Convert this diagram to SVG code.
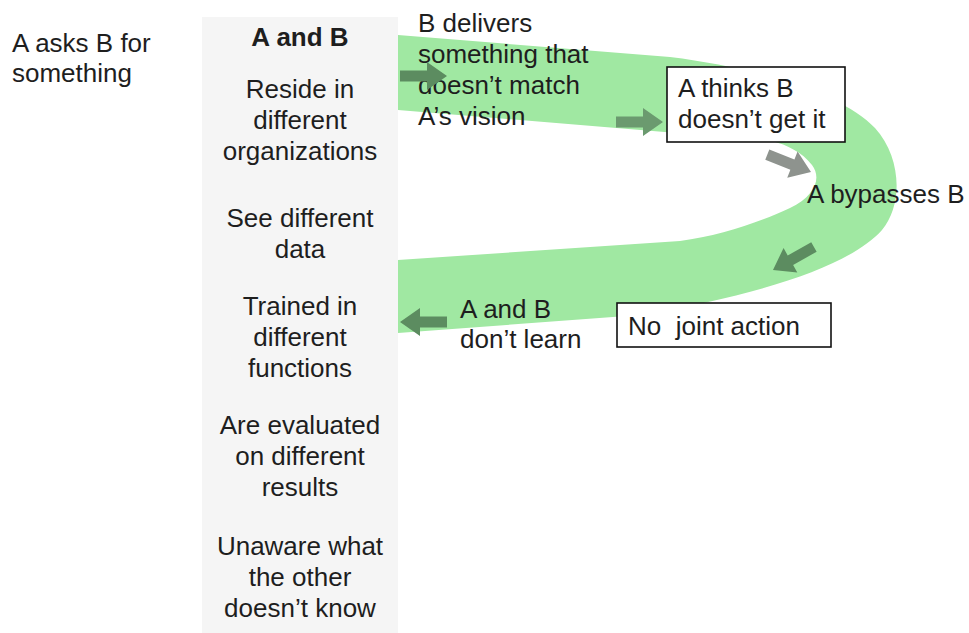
<svg xmlns="http://www.w3.org/2000/svg" width="969" height="633" viewBox="0 0 969 633">
<style>
text{font-family:"Liberation Sans",Arial,sans-serif;font-size:26px;fill:#1e1e1e}
.c{text-anchor:middle}
.b{font-weight:bold}
.box{fill:#fff;stroke:#111;stroke-width:1.6}
</style>
<defs>
<path id="arr" d="M-47,-5.5 H-20 V-14 L0,0 L-20,14 V5.5 H-47 Z"/>
</defs>
<rect width="969" height="633" fill="#fff"/>
<g id="panel">
<rect x="202" y="17" width="196" height="616" fill="#f5f5f5"/>
<text class="c b" x="300" y="46">A and B</text>
<text class="c" x="300" y="98">Reside in</text>
<text class="c" x="300" y="129">different</text>
<text class="c" x="300" y="160">organizations</text>
<text class="c" x="300" y="227">See different</text>
<text class="c" x="300" y="258">data</text>
<text class="c" x="300" y="315">Trained in</text>
<text class="c" x="300" y="346">different</text>
<text class="c" x="300" y="377">functions</text>
<text class="c" x="300" y="434">Are evaluated</text>
<text class="c" x="300" y="465">on different</text>
<text class="c" x="300" y="496">results</text>
<text class="c" x="300" y="555">Unaware what</text>
<text class="c" x="300" y="586">the other</text>
<text class="c" x="300" y="617">doesn’t know</text>
</g>
<g id="band">
<path d="M398,35 L670,57 C760,68 845,95 875,128 C902,158 903,205 882,230 C850,266 760,295 640,315 L398,333 L398,260 L680,241 C720,236 760,222 790,208 C815,196 822,178 812,165 C802,152 787,145 772,141 L398,110 Z" fill="#a0e8a2"/>
</g>
<g id="start">
<text x="12" y="52">A asks B for</text>
<text x="12" y="82">something</text>
</g>
<g id="deliver">
<text x="418" y="32">B delivers</text>
<text x="418" y="63">something that</text>
<text x="418" y="94">doesn’t match</text>
<text x="418" y="125">A’s vision</text>
</g>
<g id="thinks">
<rect class="box" x="667" y="67" width="178" height="75"/>
<text x="678" y="97">A thinks B</text>
<text x="678" y="128">doesn’t get it</text>
</g>
<g id="bypass">
<text x="807" y="203">A bypasses B</text>
</g>
<g id="nojoint">
<rect class="box" x="617" y="303" width="214" height="44"/>
<text x="628" y="335" xml:space="preserve">No  joint action</text>
</g>
<g id="learn">
<text x="460" y="318">A and B</text>
<text x="460" y="348">don’t learn</text>
</g>
<g id="connectors">
<use href="#arr" transform="translate(447,76)" fill="#5c8c60"/>
<use href="#arr" transform="translate(663,122)" fill="#6b9a6f"/>
<use href="#arr" transform="translate(811,172) rotate(21.6)" fill="#8e938e"/>
<use href="#arr" transform="translate(773,270) rotate(150.6)" fill="#5c8c60"/>
<use href="#arr" transform="translate(400,322) rotate(180)" fill="#5c8c60"/>
</g>
</svg>
